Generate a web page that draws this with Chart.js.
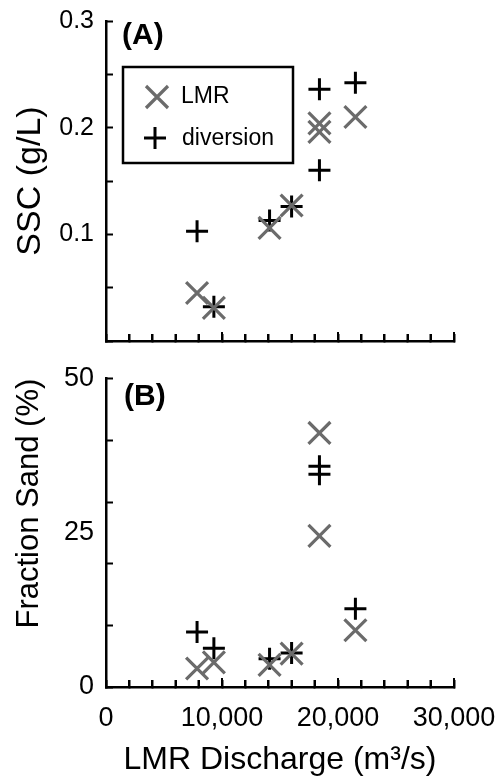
<!DOCTYPE html>
<html>
<head>
<meta charset="utf-8">
<title>SSC and sand fraction vs LMR discharge</title>
<script src="https://cdn.jsdelivr.net/npm/chart.js@4/dist/chart.umd.min.js"></script>
<style>
  body { margin: 0; background: #fff; }
  canvas { display: block; }
</style>
</head>
<body>
<canvas id="sscChart" width="501" height="360"></canvas>
<canvas id="sandChart" width="501" height="420"></canvas>
<script>
// sample discharges (m3/s), same samples in both panels
const discharge = [7850, 9300, 14100, 16000, 18400, 18400, 21500];

// (A) suspended sediment concentration, g/L
const sscLMR = [0.045, 0.031, 0.106, 0.127, 0.204, 0.196, 0.210];
const sscDiversion = [0.103, 0.032, 0.113, 0.126, 0.236, 0.160, 0.242];

// (B) fraction sand, %
const sandLMR = [3.0, 4.0, 3.6, 5.4, 41.2, 24.5, 9.2];
const sandDiversion = [8.9, 6.3, 4.6, 5.5, 35.8, 34.5, 12.7];

// tick marks and labels
const sscTicks = [0, 0.05, 0.1, 0.15, 0.2, 0.25, 0.3];
const sscTickLabels = [0.1, 0.2, 0.3];
const sandTicks = [0, 10, 20, 25, 30, 40, 50];
const sandTickLabels = [0, 25, 50];
const dischargeTickLabels = [0, 10000, 20000, 30000];

const FONT = '"Liberation Sans", Arial, Helvetica, sans-serif';
const GREY = '#6b6b6b';

function pts(xs, ys) {
  return xs.map((x, i) => ({ x: x, y: ys[i] }));
}

function datasets(lmr, div) {
  return [
    { label: 'LMR', data: pts(discharge, lmr), pointStyle: 'crossRot', pointRadius: 15.5,
      pointBorderColor: GREY, pointBorderWidth: 3.2, pointBackgroundColor: GREY, showLine: false },
    { label: 'diversion', data: pts(discharge, div), pointStyle: 'cross', pointRadius: 11,
      pointBorderColor: '#000', pointBorderWidth: 3, pointBackgroundColor: '#000', showLine: false }
  ];
}

// keep label overhang from shrinking the plot area
function noOverhang(s) {
  s.paddingTop = 0;
  s.paddingBottom = 0;
  s.paddingLeft = 0;
  s.paddingRight = 0;
}

// inward x ticks, a bit longer at the labelled values
const xTickMarks = {
  id: 'xTickMarks',
  afterDraw(chart) {
    const xs = chart.scales.x;
    const y0 = Math.round(chart.chartArea.bottom);
    const ctx = chart.ctx;
    ctx.save();
    ctx.strokeStyle = '#000';
    ctx.lineWidth = 2;
    ctx.beginPath();
    xs.ticks.forEach(t => {
      if (t.value === xs.min) return;
      const px = Math.round(xs.getPixelForValue(t.value));
      const len = dischargeTickLabels.includes(t.value) ? 9 : 7;
      ctx.moveTo(px, y0);
      ctx.lineTo(px, y0 - len);
    });
    ctx.stroke();
    ctx.restore();
  }
};

// panel letter and (optionally) boxed legend
function decor(letter, lx, ly, withLegend) {
  return {
    id: 'decor' + (withLegend ? 'A' : 'B'),
    afterDraw(chart) {
      const ctx = chart.ctx;
      ctx.save();
      ctx.fillStyle = '#000';
      ctx.font = 'bold 30px ' + FONT;
      ctx.textBaseline = 'middle';
      ctx.textAlign = 'left';
      ctx.fillText(letter, lx, ly);
      if (withLegend) {
        ctx.lineWidth = 2.5;
        ctx.strokeStyle = '#000';
        ctx.strokeRect(123, 67, 170, 96);
        // X marker
        ctx.lineWidth = 3.2;
        ctx.strokeStyle = GREY;
        ctx.beginPath();
        ctx.moveTo(146, 86); ctx.lineTo(168, 108);
        ctx.moveTo(168, 86); ctx.lineTo(146, 108);
        ctx.stroke();
        // plus marker
        ctx.lineWidth = 3;
        ctx.strokeStyle = '#000';
        ctx.beginPath();
        ctx.moveTo(144, 138); ctx.lineTo(166, 138);
        ctx.moveTo(155, 127); ctx.lineTo(155, 149);
        ctx.stroke();
        ctx.font = '23px ' + FONT;
        ctx.fillText('LMR', 181, 97);
        ctx.fillText('diversion', 182, 139);
      }
      ctx.restore();
    }
  };
}

new Chart(document.getElementById('sscChart'), {
  type: 'scatter',
  data: { datasets: datasets(sscLMR, sscDiversion) },
  options: {
    responsive: false, animation: false, devicePixelRatio: 1,
    layout: { padding: { top: 21, right: 47, bottom: 0, left: 0 } },
    plugins: { legend: { display: false } },
    scales: {
      x: {
        type: 'linear', min: 0, max: 30000,
        ticks: { stepSize: 2000, callback: () => '' },
        grid: { drawOnChartArea: false, tickLength: -7, tickColor: '#000', tickWidth: 2 },
        border: { display: true, color: '#000', width: 2.5 },
        afterFit: s => { s.height = 19; noOverhang(s); }
      },
      y: {
        type: 'linear', min: 0, max: 0.3,
        afterBuildTicks: s => { s.ticks = sscTicks.map(v => ({ value: v })); },
        ticks: {
          padding: 19, color: '#000', font: { family: FONT, size: 25 },
          callback: v => sscTickLabels.includes(v) ? v.toFixed(1) : ''
        },
        grid: { drawOnChartArea: false, tickLength: -7, tickColor: '#000', tickWidth: 2 },
        border: { display: true, color: '#000', width: 2.5 },
        title: {
          display: true, text: 'SSC (g/L)', color: '#000',
          font: { family: FONT, size: 34 }, padding: { top: 10 }
        },
        afterFit: s => { s.width = 106; noOverhang(s); }
      }
    }
  },
  plugins: [xTickMarks, decor('(A)', 122, 36, true)]
});

new Chart(document.getElementById('sandChart'), {
  type: 'scatter',
  data: { datasets: datasets(sandLMR, sandDiversion) },
  options: {
    responsive: false, animation: false, devicePixelRatio: 1,
    layout: { padding: { top: 13, right: 47, bottom: 0, left: 0 } },
    plugins: { legend: { display: false } },
    scales: {
      x: {
        type: 'linear', min: 0, max: 30000,
        ticks: {
          stepSize: 2000, maxRotation: 0, autoSkip: false, padding: 22,
          color: '#000', font: { family: FONT, size: 27 },
          callback: v => dischargeTickLabels.includes(v) ? v.toLocaleString('en-US') : ''
        },
        grid: { drawOnChartArea: false, tickLength: -7, tickColor: '#000', tickWidth: 2 },
        border: { display: true, color: '#000', width: 2.5 },
        title: {
          display: true, text: 'LMR Discharge (m³/s)', color: '#000',
          font: { family: FONT, size: 32 }, padding: { bottom: 1 }
        },
        afterFit: s => { s.height = 93; noOverhang(s); }
      },
      y: {
        type: 'linear', min: 0, max: 50,
        afterBuildTicks: s => { s.ticks = sandTicks.map(v => ({ value: v })); },
        ticks: {
          padding: 19, color: '#000', font: { family: FONT, size: 27 },
          callback: v => sandTickLabels.includes(v) ? String(v) : ''
        },
        grid: {
          drawOnChartArea: false, tickLength: -7, tickWidth: 2,
          tickColor: c => (c.tick && c.tick.value === 25) ? 'rgba(0,0,0,0)' : '#000'
        },
        border: { display: true, color: '#000', width: 2.5 },
        title: {
          display: true, text: 'Fraction Sand (%)', color: '#000', align: 'end',
          font: { family: FONT, size: 31 }, padding: { top: 11 }
        },
        afterFit: s => { s.width = 106; noOverhang(s); }
      }
    }
  },
  plugins: [xTickMarks, decor('(B)', 124, 37, false)]
});
</script>
</body>
</html>
